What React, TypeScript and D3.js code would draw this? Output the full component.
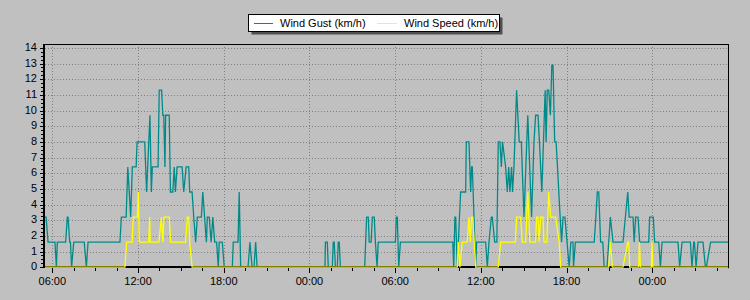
import React from "react";
import * as d3 from "d3";

// Time in minutes since 00:00 of day 1, value in km/h
const gustPoints: [number, number][] = [
  [325, 3.2], [334, 3.2], [342, 1.6], [371, 1.6], [377, 0], [381, 1.6], [416, 1.6], [423, 3.2], [426, 3.2],
  [433, 1.6], [436, 1.6], [441, 0], [450, 1.6], [494, 1.6], [503, 0], [510, 1.6], [644, 1.6], [650, 3.2],
  [670, 3.2], [677, 6.4], [689, 3.2], [696, 6.4], [712, 6.4], [716, 8.0], [748, 8.0], [756, 4.8], [770, 9.7],
  [776, 4.8], [780, 6.4], [804, 6.4], [809, 11.3], [819, 11.3], [824, 9.7], [828, 9.7], [833, 6.4], [836, 9.7],
  [851, 9.7], [856, 4.8], [866, 4.8], [872, 6.4], [877, 4.8], [884, 6.4], [905, 6.4], [912, 4.8], [922, 6.4],
  [933, 6.4], [937, 4.8], [947, 4.8], [954, 3.2], [962, 1.6], [969, 3.2], [986, 3.2], [992, 4.8], [1007, 1.6],
  [1011, 3.2], [1019, 3.2], [1027, 1.6], [1034, 3.2], [1042, 1.6], [1050, 1.6], [1057, 0], [1061, 1.6],
  [1074, 1.6], [1082, 0], [1116, 0], [1120, 1.6], [1140, 1.6], [1145, 4.8], [1151, 0], [1182, 0], [1190, 1.6],
  [1199, 0], [1207, 0], [1214, 1.6], [1220, 0], [1505, 0], [1507, 1.6], [1515, 1.6], [1519, 0], [1536, 0],
  [1540, 1.6], [1544, 1.6], [1549, 0], [1557, 0], [1561, 1.6], [1565, 1.6], [1570, 0], [1672, 0], [1680, 3.2],
  [1687, 3.2], [1691, 1.6], [1699, 1.6], [1704, 3.2], [1712, 3.2], [1717, 1.6], [1724, 0], [1729, 1.6],
  [1801, 1.6], [1805, 3.2], [1809, 3.2], [1815, 0], [1822, 1.6], [2042, 1.6], [2046, 0], [2051, 3.2],
  [2054, 3.2], [2061, 0], [2070, 3.2], [2075, 4.8], [2096, 4.8], [2099, 8.0], [2110, 8.0], [2117, 4.8],
  [2121, 6.4], [2124, 6.4], [2138, 0], [2142, 1.6], [2180, 1.6], [2187, 0], [2194, 1.6], [2204, 3.2],
  [2208, 3.2], [2218, 1.6], [2227, 1.6], [2233, 8.0], [2240, 8.0], [2246, 6.4], [2251, 8.0], [2264, 6.4],
  [2271, 4.8], [2277, 6.4], [2282, 4.8], [2289, 6.4], [2293, 4.8], [2299, 6.4], [2310, 11.3], [2321, 8.0],
  [2330, 8.0], [2341, 3.2], [2357, 9.7], [2373, 3.2], [2383, 8.0], [2390, 9.7], [2400, 9.7], [2406, 8.0],
  [2416, 4.8], [2430, 11.3], [2434, 8.0], [2439, 11.3], [2445, 11.3], [2452, 9.7], [2458, 12.9], [2463, 12.9],
  [2470, 8.0], [2476, 8.0], [2493, 3.2], [2499, 1.6], [2505, 3.2], [2513, 3.2], [2531, 0], [2538, 1.6],
  [2547, 1.6], [2549, 0], [2557, 1.6], [2636, 1.6], [2643, 3.2], [2649, 4.8], [2655, 4.8], [2663, 1.6],
  [2672, 1.6], [2678, 0], [2690, 0], [2704, 3.2], [2715, 1.6], [2757, 1.6], [2777, 4.8], [2783, 3.2],
  [2799, 3.2], [2804, 1.6], [2810, 3.2], [2820, 3.2], [2827, 1.6], [2865, 1.6], [2869, 3.2], [2884, 3.2],
  [2890, 1.6], [2907, 1.6], [2914, 0], [2921, 1.6], [2988, 1.6], [2995, 0], [3005, 1.6], [3040, 1.6],
  [3047, 0], [3054, 1.6], [3057, 1.6], [3064, 0], [3072, 1.6], [3093, 1.6], [3103, 0], [3107, 0],
  [3125, 1.6], [3198, 1.6],
];

const speedPoints: [number, number][] = [
  [325, 0], [665, 0], [672, 1.6], [695, 1.6], [700, 3.2], [717, 3.2], [721, 4.8], [725, 1.6], [765, 1.6],
  [769, 3.2], [771, 1.6], [808, 1.6], [818, 3.2], [824, 1.6], [829, 3.2], [851, 3.2], [857, 1.6], [920, 1.6],
  [927, 3.2], [933, 3.2], [937, 1.6], [947, 0], [2061, 0], [2065, 1.6], [2072, 0], [2082, 1.6], [2103, 1.6],
  [2110, 3.2], [2116, 1.6], [2121, 3.2], [2126, 3.2], [2138, 0], [2233, 0], [2243, 1.6], [2305, 1.6],
  [2310, 3.2], [2327, 3.2], [2334, 1.6], [2348, 1.6], [2357, 4.8], [2366, 1.6], [2390, 1.6], [2394, 3.2],
  [2400, 3.2], [2405, 1.6], [2411, 3.2], [2421, 3.2], [2425, 1.6], [2437, 1.6], [2445, 4.8], [2453, 3.2],
  [2474, 3.2], [2489, 1.6], [2495, 0], [2697, 0], [2704, 1.6], [2712, 0], [2757, 0], [2777, 1.6], [2781, 1.6],
  [2785, 0], [2823, 0], [2826, 1.6], [2830, 0], [2876, 0], [2879, 1.6], [2882, 0], [3198, 0],
];

const seriesNames = ["Wind Gust (km/h)", "Wind Speed (km/h)"];
const seriesColors = ["#008b8b", "#ffff00"];
const xDomain: [number, number] = [325, 3198];
const yDomain: [number, number] = [0, 14.25];
const yTickValues = d3.range(0, 15, 1);
const xTickStep = 360;
const xMinorStep = 90;

const W = 750;
const H = 300;
const left = 44;
const right = 728;
const top = 44;
const bottom = 267.2;
const FONT = "'Liberation Sans', Arial, sans-serif";

function fmtTime(m: number) {
  const mm = ((m % 1440) + 1440) % 1440;
  const h = Math.floor(mm / 60);
  const mi = mm % 60;
  return `${String(h).padStart(2, "0")}:${String(mi).padStart(2, "0")}`;
}

export default function App() {
  const x = d3.scaleLinear().domain(xDomain).range([left, right]);
  const y = d3.scaleLinear().domain(yDomain).range([bottom, top]);
  const line = d3
    .line<[number, number]>()
    .x((d) => x(d[0]))
    .y((d) => y(d[1]));

  const xMajor = d3.range(Math.ceil(xDomain[0] / xTickStep) * xTickStep, xDomain[1] + 1, xTickStep);
  const xMinor = d3
    .range(Math.ceil(xDomain[0] / xMinorStep) * xMinorStep, xDomain[1] + 1, xMinorStep)
    .filter((m) => m % xTickStep !== 0);
  const yMinor = d3.range(0, 14.01, 0.25).filter((v) => Math.abs(v - Math.round(v)) > 1e-6);

  return (
    <svg
      width={W}
      height={H}
      style={{ position: "absolute", left: 0, top: 0, display: "block", background: "#c0c0c0" }}
      fontFamily={FONT}
    >
      <rect x={0} y={0} width={W} height={H} fill="#c0c0c0" />
      {/* grid */}
      <g stroke="#808080" strokeWidth={1} strokeDasharray="1,2">
        {yTickValues
          .filter((v) => v > 0)
          .map((v) => (
            <line key={"gy" + v} x1={left + 1} x2={right} y1={Math.round(y(v)) + 0.5} y2={Math.round(y(v)) + 0.5} />
          ))}
        {xMajor.map((m) => (
          <line key={"gx" + m} x1={Math.round(x(m)) + 0.5} x2={Math.round(x(m)) + 0.5} y1={top} y2={bottom} />
        ))}
      </g>
      {/* series */}
      <path d={line(gustPoints) || ""} fill="none" stroke={seriesColors[0]} strokeWidth={1.3} />
      {/* frame */}
      <line x1={left} x2={right} y1={top + 0.5} y2={top + 0.5} stroke="#000" strokeWidth={1} />
      <line x1={right + 0.5} x2={right + 0.5} y1={top} y2={bottom + 1} stroke="#000" strokeWidth={1} />
      <line x1={left - 1} x2={right + 1} y1={267} y2={267} stroke="#000" strokeWidth={2} />
      <path d={line(speedPoints) || ""} fill="none" stroke={seriesColors[1]} strokeWidth={1.3} />
      <line x1={left} x2={left} y1={top} y2={268} stroke="#000" strokeWidth={2} />
      {/* y axis ticks and labels */}
      <g stroke="#000" strokeWidth={1}>
        {yTickValues.map((v) => (
          <line key={"yt" + v} x1={40} x2={43} y1={Math.round(y(v)) + 0.5} y2={Math.round(y(v)) + 0.5} />
        ))}
        {yMinor.map((v) => (
          <line key={"ym" + v} x1={41} x2={43} y1={Math.round(y(v)) + 0.5} y2={Math.round(y(v)) + 0.5} />
        ))}
      </g>
      <g fontSize={11} fill="#000" textAnchor="end">
        {yTickValues.map((v) => (
          <text key={"yl" + v} x={37} y={y(v) + 3}>
            {v}
          </text>
        ))}
      </g>
      {/* x axis ticks and labels */}
      <g stroke="#000" strokeWidth={1}>
        {xMajor.map((m) => (
          <line key={"xt" + m} x1={Math.round(x(m)) + 0.5} x2={Math.round(x(m)) + 0.5} y1={268} y2={273} />
        ))}
        {xMinor.map((m) => (
          <line key={"xm" + m} x1={Math.round(x(m)) + 0.5} x2={Math.round(x(m)) + 0.5} y1={268} y2={271} />
        ))}
      </g>
      <g fontSize={11} fill="#000" textAnchor="middle">
        {xMajor.map((m) => (
          <text key={"xl" + m} x={x(m)} y={285}>
            {fmtTime(m)}
          </text>
        ))}
      </g>
      {/* legend */}
      <rect x={251.5} y={17.5} width={251} height={17} fill="#505050" />
      <rect x={248.5} y={14.5} width={251} height={17} fill="#fff" stroke="#000" strokeWidth={1} />
      <line x1={254} x2={273} y1={23.5} y2={23.5} stroke={seriesColors[0]} strokeWidth={1} />
      <text x={280} y={27} fontSize={11} fill="#000">
        {seriesNames[0]}
      </text>
      <line x1={377} x2={397} y1={23.5} y2={23.5} stroke={seriesColors[1]} strokeWidth={1} />
      <text x={404} y={27} fontSize={11} fill="#000">
        {seriesNames[1]}
      </text>
    </svg>
  );
}
